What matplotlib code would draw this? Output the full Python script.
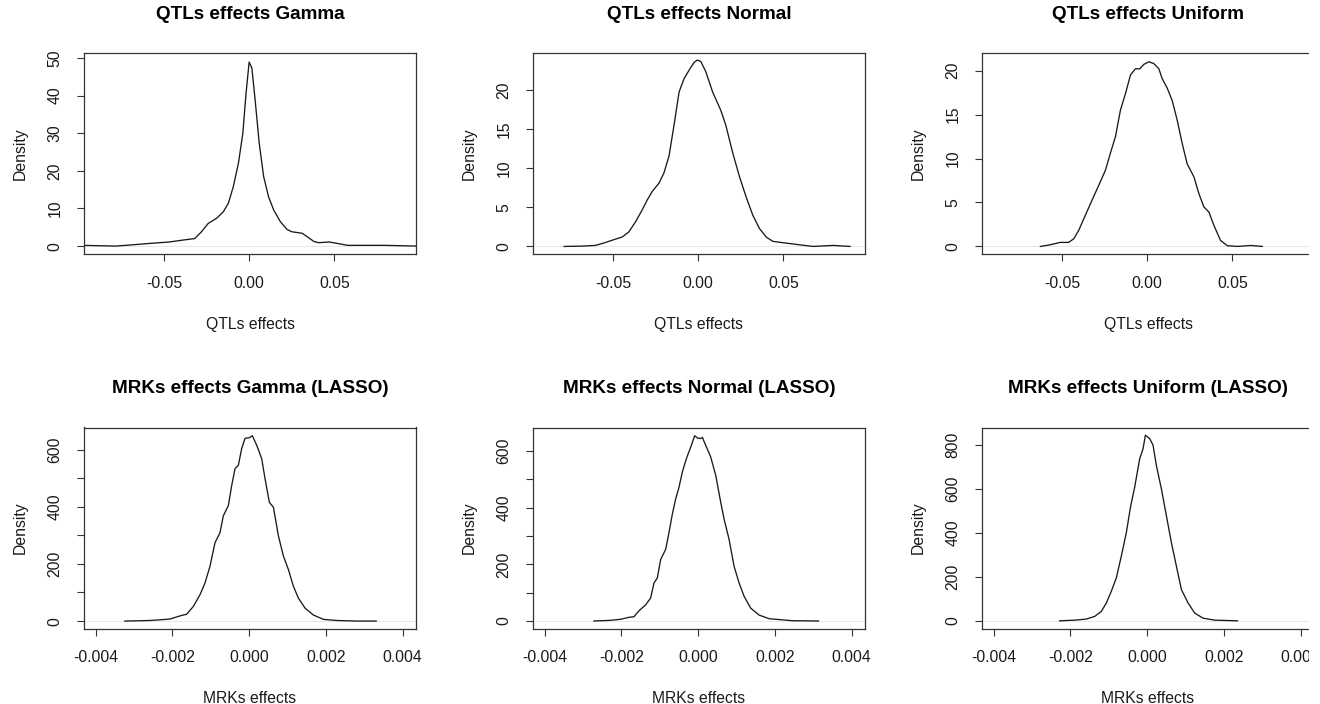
import matplotlib
matplotlib.use("Agg")
import matplotlib.pyplot as plt
from matplotlib.patches import Rectangle

plt.rcParams['font.family'] = ['Liberation Sans', 'DejaVu Sans']

# ---- data (density curves) ----
titles = ["QTLs effects Gamma", "QTLs effects Normal", "QTLs effects Uniform",
          "MRKs effects Gamma (LASSO)", "MRKs effects Normal (LASSO)",
          "MRKs effects Uniform (LASSO)"]
xlabels = ["QTLs effects"] * 3 + ["MRKs effects"] * 3

qtl_gamma_x = [-0.0980, -0.0783, -0.0586, -0.0467, -0.0389, -0.0320, -0.0280, -0.0241,
               -0.0191, -0.0152, -0.0122, -0.0093, -0.0063, -0.0037, -0.0018, 0.0,
               0.0016, 0.0035, 0.0059, 0.0085, 0.0114, 0.0144, 0.0183, 0.0223, 0.0252,
               0.0312, 0.0341, 0.0381, 0.0410, 0.0469, 0.0519, 0.0578, 0.0696, 0.0795,
               0.0992]
qtl_gamma_y = [0.2, 0.0, 0.7, 1.1, 1.6, 2.0, 3.8, 6.0, 7.4, 9.1, 11.4, 15.8, 22.0, 30.0,
               40.7, 48.9, 47.3, 38.9, 27.4, 18.5, 13.1, 9.6, 6.5, 4.4, 3.8, 3.4, 2.5,
               1.2, 0.9, 1.1, 0.7, 0.2, 0.2, 0.2, 0.0]

qtl_normal_x = [-0.0787, -0.0683, -0.0604, -0.0555, -0.0496, -0.0447, -0.0407, -0.0368,
                -0.0329, -0.0299, -0.0270, -0.0230, -0.0201, -0.0171, -0.0142, -0.0112,
                -0.0083, -0.0053, -0.0024, -0.0004, 0.0016, 0.0045, 0.0085, 0.0134,
                0.0163, 0.0203, 0.0242, 0.0281, 0.0321, 0.0360, 0.0400, 0.0439, 0.0498,
                0.0577, 0.0675, 0.0793, 0.0892]
qtl_normal_y = [0.0, 0.04, 0.13, 0.43, 0.86, 1.2, 1.86, 3.15, 4.67, 5.96, 7.04, 8.12,
                9.42, 11.6, 15.5, 19.8, 21.5, 22.6, 23.6, 23.9, 23.7, 22.4, 19.8, 17.4,
                15.5, 12.0, 9.0, 6.4, 4.0, 2.3, 1.2, 0.65, 0.48, 0.26, 0.0, 0.13, 0.0]

qtl_uniform_x = [-0.0627, -0.0569, -0.0510, -0.0461, -0.0431, -0.0402, -0.0363, -0.0324,
                 -0.0284, -0.0245, -0.0216, -0.0186, -0.0157, -0.0127, -0.0098, -0.0069,
                 -0.0043, -0.0020, 0.0010, 0.0039, 0.0069, 0.0088, 0.0118, 0.0147,
                 0.0176, 0.0206, 0.0235, 0.0275, 0.0304, 0.0333, 0.0363, 0.0392, 0.0431,
                 0.0471, 0.0529, 0.0608, 0.0676]
qtl_uniform_y = [0.0, 0.19, 0.46, 0.46, 0.87, 1.83, 3.54, 5.25, 6.96, 8.67, 10.6, 12.5,
                 15.5, 17.4, 19.5, 20.2, 20.2, 20.7, 21.0, 20.8, 20.2, 19.1, 18.0, 16.6,
                 14.4, 11.7, 9.4, 7.9, 6.0, 4.5, 3.9, 2.4, 0.68, 0.08, 0.0, 0.11, 0.0]

mrk_gamma_x = [-0.003235, -0.002583, -0.002061, -0.0018, -0.001626, -0.001452, -0.001278,
               -0.001148, -0.001017, -0.000887, -0.000757, -0.00067, -0.000539, -0.000452,
               -0.000365, -0.000278, -0.000191, -0.000104, 0.0, 0.000087, 0.0002,
               0.00033, 0.000417, 0.00053, 0.000635, 0.000765, 0.000896, 0.001026,
               0.001157, 0.001287, 0.001461, 0.001678, 0.001939, 0.002287, 0.002809,
               0.003313]
mrk_gamma_y = [0, 2, 7, 18, 24, 51, 92, 133, 192, 274, 309, 368, 404, 474, 533, 545, 604,
               639, 641, 648, 615, 568, 498, 415, 398, 298, 227, 180, 121, 80, 45, 21, 6,
               2, 0, 0]

mrk_normal_x = [-0.002713, -0.002322, -0.002017, -0.0018, -0.00167, -0.001539, -0.001365,
                -0.001235, -0.001148, -0.001061, -0.000974, -0.000843, -0.000757,
                -0.00067, -0.000583, -0.000496, -0.000409, -0.000304, -0.000191,
                -0.000087, -0.000017, 0.00007, 0.000113, 0.0002, 0.00033, 0.000461,
                0.000591, 0.000678, 0.000809, 0.000939, 0.00107, 0.0012, 0.001374,
                0.001591, 0.001852, 0.002113, 0.002461, 0.003139]
mrk_normal_y = [0, 2, 6, 13, 15, 36, 57, 81, 134, 152, 217, 253, 312, 377, 431, 472, 526,
                573, 614, 654, 646, 644, 648, 620, 579, 514, 419, 360, 288, 193, 134, 87,
                45, 21, 8, 5, 1, 0]

mrk_uniform_x = [-0.002278, -0.001887, -0.001583, -0.001365, -0.001191, -0.001061,
                 -0.00093, -0.0008, -0.00067, -0.000539, -0.000426, -0.000322, -0.000191,
                 -0.000104, -0.000043, 0.00007, 0.000157, 0.000243, 0.000374, 0.000504,
                 0.000635, 0.000765, 0.000896, 0.00107, 0.001243, 0.001461, 0.001765,
                 0.002357]
mrk_uniform_y = [0, 3, 8, 20, 43, 81, 135, 196, 295, 402, 524, 609, 739, 784, 846, 830,
                 800, 708, 601, 479, 356, 249, 142, 81, 35, 12, 3, 0]

curves = [(qtl_gamma_x, qtl_gamma_y), (qtl_normal_x, qtl_normal_y),
          (qtl_uniform_x, qtl_uniform_y), (mrk_gamma_x, mrk_gamma_y),
          (mrk_normal_x, mrk_normal_y), (mrk_uniform_x, mrk_uniform_y)]

# ---- ticks ----
qtl_xticks = [-0.05, 0.0, 0.05]
qtl_xticklabels = ["-0.05", "0.00", "0.05"]
mrk_xticks = [-0.004, -0.002, 0.0, 0.002, 0.004]
mrk_xticklabels = ["-0.004", "-0.002", "0.000", "0.002", "0.004"]

yticks = [[0, 10, 20, 30, 40, 50],
          [0, 5, 10, 15, 20],
          [0, 5, 10, 15, 20],
          [0, 100, 200, 300, 400, 500, 600],
          [0, 100, 200, 300, 400, 500, 600],
          [0, 200, 400, 600, 800]]
yticklabels = [["0", "10", "20", "30", "40", "50"],
               ["0", "5", "10", "15", "20"],
               ["0", "5", "10", "15", "20"],
               ["0", "", "200", "", "400", "", "600"],
               ["0", "", "200", "", "400", "", "600"],
               ["0", "200", "400", "600", "800"]]

# ---- layout (pixels of a 1320x704 canvas) ----
W, H = 1320, 704
lefts = [84, 533, 982]
tops = [53, 427.5]
bw, bh = 332, 201
xlims = [(-0.097, 0.098)] * 3 + [(-0.0043, 0.00435)] * 3
ylims = [(-2.1, 51.3), (-0.97, 24.8), (-0.86, 22.0),
         (-26, 677), (-26.5, 683), (-35, 881)]

fig = plt.figure(figsize=(W / 100, H / 100), dpi=100)

for i in range(6):
    row, col = divmod(i, 3)
    ax = fig.add_axes([lefts[col] / W, 1 - (tops[row] + bh) / H, bw / W, bh / H])
    ax.axhline(0, color="#e6e6e6", lw=0.7, zorder=1)
    x, y = curves[i]
    ax.plot(x, y, color="#1a1a1a", lw=0.95, zorder=2)
    ax.set_xlim(*xlims[i])
    ax.set_ylim(*ylims[i])
    if row == 0:
        ax.set_xticks(qtl_xticks)
        ax.set_xticklabels(qtl_xticklabels)
    else:
        ax.set_xticks(mrk_xticks)
        ax.set_xticklabels(mrk_xticklabels)
    ax.set_yticks(yticks[i])
    ax.set_yticklabels(yticklabels[i], rotation=90, va="center")
    for s in ax.spines.values():
        s.set_color("#333333")
        s.set_linewidth(0.9)
    ax.tick_params(direction="out", length=5, width=0.8, color="#333333",
                   labelsize=11.3, labelcolor="#1a1a1a", pad=10.5)
    ax.set_title(titles[i], fontsize=13.6, fontweight="bold", pad=24.5)
    ax.set_xlabel(xlabels[i], fontsize=11.3, color="#1a1a1a", labelpad=19)
    ax.set_ylabel("Density", fontsize=11.3, color="#1a1a1a", labelpad=14.5)

# the reference is cut off at the right edge
fig.add_artist(Rectangle((1309 / W, 0), 1 - 1309 / W, 1, transform=fig.transFigure,
                         facecolor="white", edgecolor="none", zorder=100))

fig.savefig("out.png", dpi=100)
